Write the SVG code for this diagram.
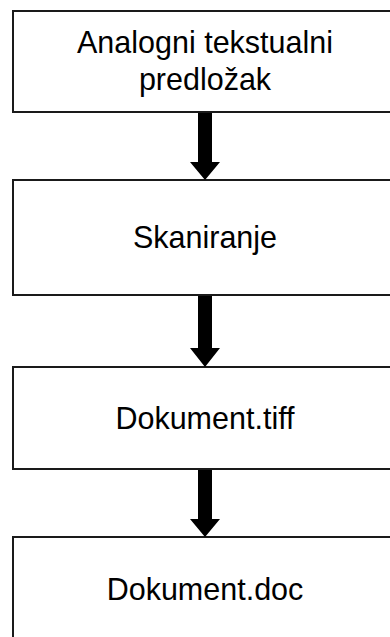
<svg xmlns="http://www.w3.org/2000/svg" width="390" height="637" viewBox="0 0 390 637">
<style>
.box{fill:#fff;stroke:#1a1a1a;stroke-width:2}
.lbl{font-family:"Liberation Sans",Arial,sans-serif;font-size:30.5px;fill:#000;text-anchor:middle}
.arr{fill:#000}
</style>
<rect width="390" height="637" fill="#fff"/>
<g id="n1"><rect class="box" x="13" y="11" width="390" height="101"/><text class="lbl" x="205" y="53">Analogni tekstualni</text><text class="lbl" x="205" y="90">predložak</text></g>
<g id="n2"><rect class="box" x="13" y="180" width="390" height="115"/><text class="lbl" x="205" y="248">Skaniranje</text></g>
<g id="n3"><rect class="box" x="13" y="367" width="390" height="102"/><text class="lbl" x="205" y="429">Dokument.tiff</text></g>
<g id="n4"><rect class="box" x="13" y="537" width="390" height="120"/><text class="lbl" x="205" y="600">Dokument.doc</text></g>
<g id="connectors">
<path class="arr" d="M198,113 H212 V162 H220 L205,180 L190,162 H198 Z"/>
<path class="arr" d="M198,296 H212 V348 H220 L205,367 L190,348 H198 Z"/>
<path class="arr" d="M198,470 H212 V519 H220 L205,537 L190,519 H198 Z"/>
</g>
</svg>
